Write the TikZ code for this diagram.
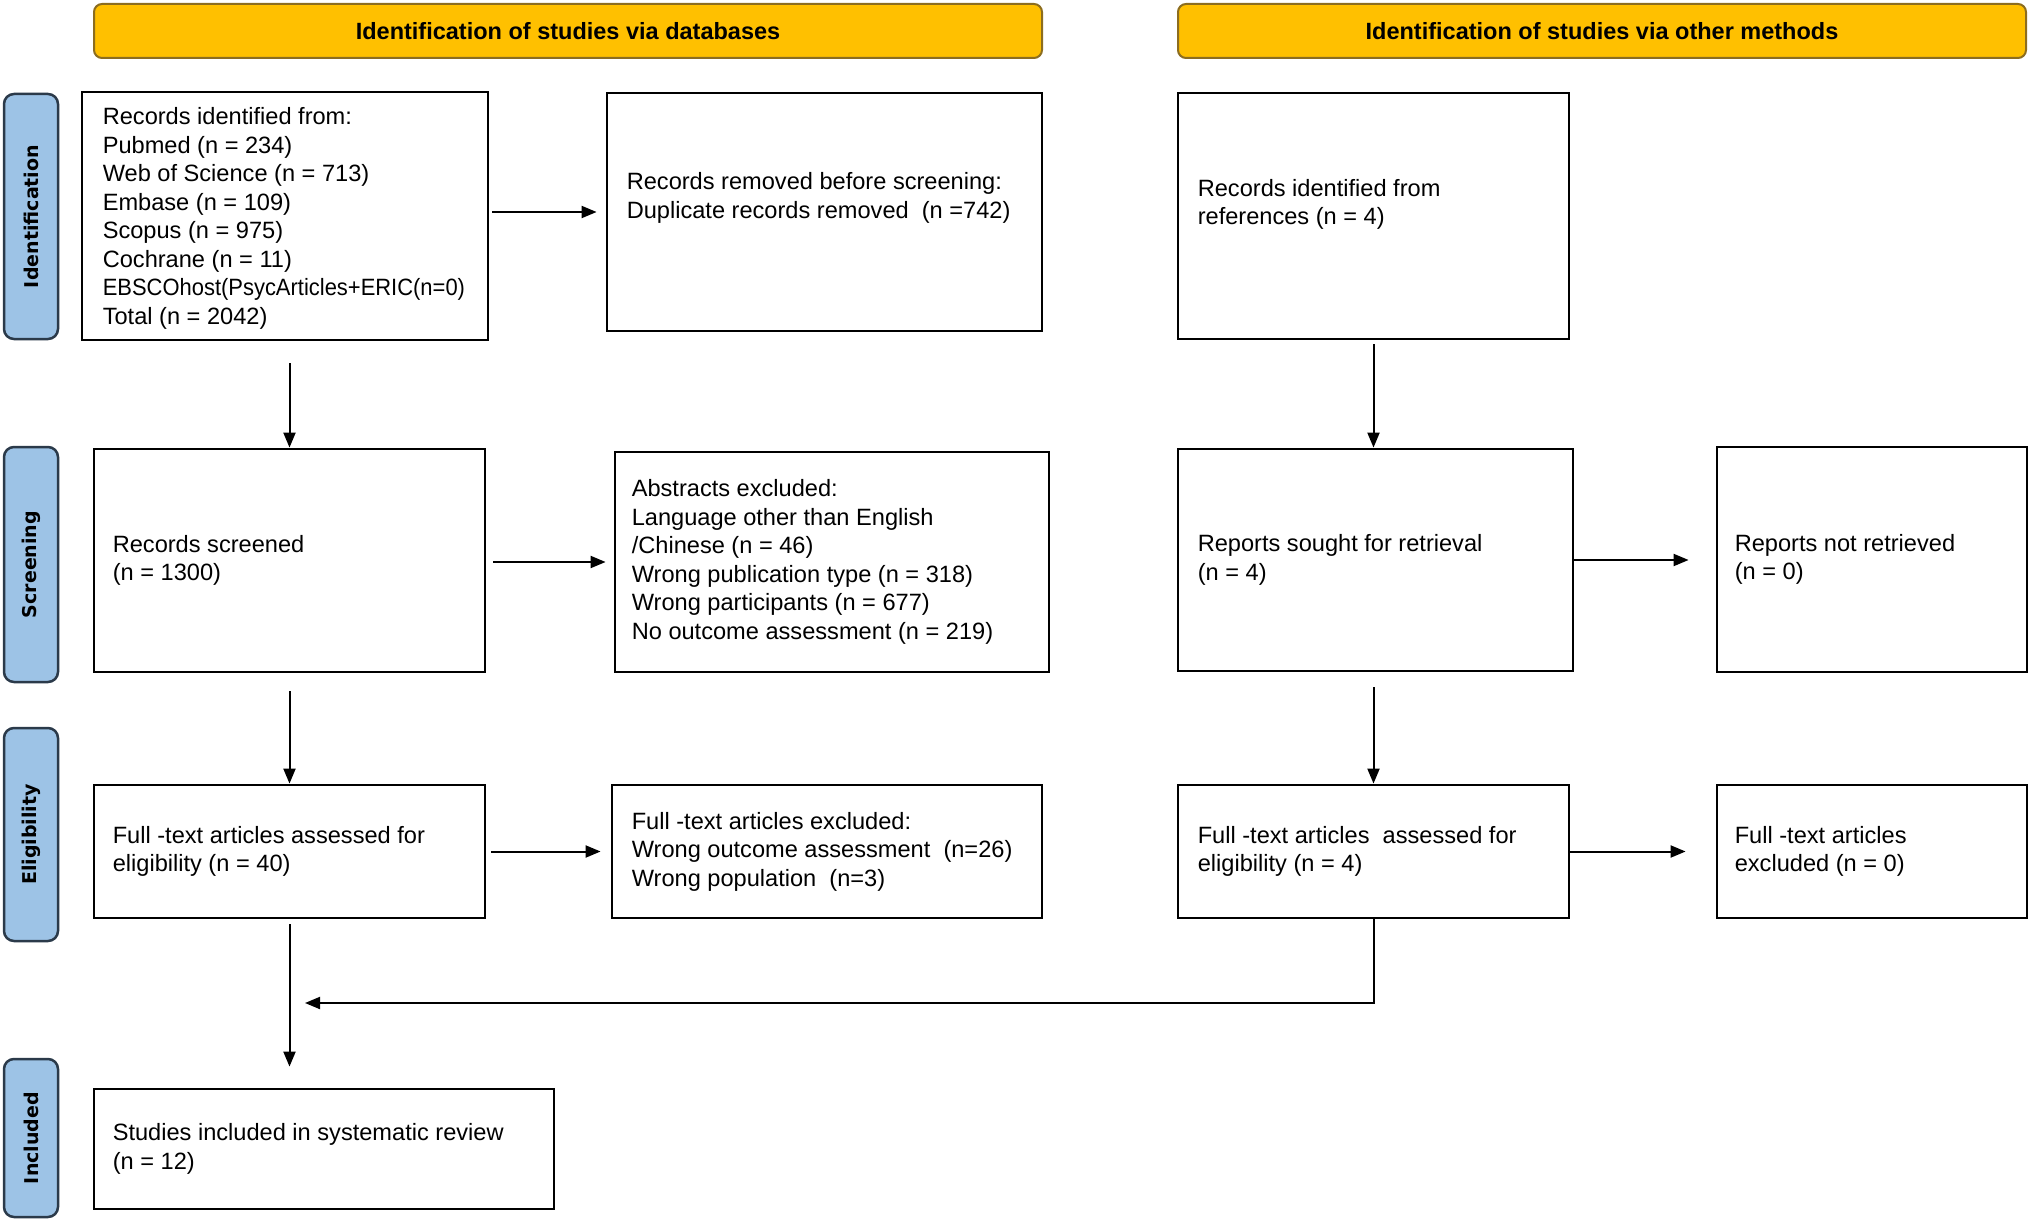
\documentclass[tikz,border=0pt]{standalone}
\usepackage{fontspec}
\setmainfont{Liberation Sans}
\newfontfamily\sidefont{DejaVu Sans}
\usetikzlibrary{arrows.meta,calc}
\definecolor{gold}{HTML}{FFC000}
\definecolor{golddark}{HTML}{8C6D1F}
\definecolor{sideblue}{HTML}{9DC3E6}
\definecolor{sidedark}{HTML}{2B3A4A}
\begin{document}
\begin{tikzpicture}[x=1pt,y=-1pt,
  box/.style={draw=black, line width=2.8pt, fill=white, inner sep=0pt},
  txt/.style={anchor=west, align=left, inner sep=0pt, font=\fontsize{23.6}{28.5}\selectfont},
  header/.style={draw=golddark, line width=2pt, fill=gold, rounded corners=8pt, inner sep=0pt, font=\fontsize{23.5}{28}\selectfont\bfseries},
  side/.style={draw=sidedark, line width=2.5pt, fill=sideblue, rounded corners=10pt, inner sep=0pt, rotate=90, minimum height=54pt, font=\fontsize{19}{22}\sidefont\bfseries},
  arr/.style={line width=2pt, -{Triangle[length=15pt,width=12pt]}},
  conn/.style={line width=2pt}]
\useasboundingbox (0,0) rectangle (2030,1220);

% headers
\node[header, minimum width=948pt, minimum height=54pt] (h1) at (568,31) {Identification of studies via databases};
\node[header, minimum width=848pt, minimum height=54pt] (h2) at (1602,31) {Identification of studies via other methods};

% side labels
\node[side, minimum width=245pt] (s1) at (31,216.5) {Identification};
\node[side, minimum width=235pt] (s2) at (31,564.5) {Screening};
\node[side, minimum width=213pt] (s3) at (31,834.5) {Eligibility};
\node[side, minimum width=158pt] (s4) at (31,1138) {Included};

% boxes
\node[box, minimum width=406pt, minimum height=248pt] (A) at (285,216) {};
\node[box, minimum width=435pt, minimum height=238pt] (B) at (824.5,212) {};
\node[box, minimum width=391pt, minimum height=246pt] (C) at (1373.5,216) {};
\node[box, minimum width=391pt, minimum height=223pt] (D) at (289.5,560.5) {};
\node[box, minimum width=434pt, minimum height=220pt] (E) at (832,562) {};
\node[box, minimum width=395pt, minimum height=222pt] (F) at (1375.5,560) {};
\node[box, minimum width=310pt, minimum height=225pt] (G) at (1872,559.5) {};
\node[box, minimum width=391pt, minimum height=133pt] (H) at (289.5,851.5) {};
\node[box, minimum width=430pt, minimum height=133pt] (I) at (827,851.5) {};
\node[box, minimum width=391pt, minimum height=133pt] (J) at (1373.5,851.5) {};
\node[box, minimum width=310pt, minimum height=133pt] (K) at (1872,851.5) {};
\node[box, minimum width=460pt, minimum height=120pt] (L) at (324,1149) {};

% texts
\node[txt] (tA) at ([xshift=22pt,yshift=-2.5pt]A.west) {Records identified from:\\Pubmed (n = 234)\\Web of Science (n = 713)\\Embase (n = 109)\\Scopus (n = 975)\\Cochrane (n = 11)\\\scalebox{0.93}[1]{EBSCOhost(PsycArticles+ERIC(n=0)}\\Total (n = 2042)};
\node[txt] (tB) at ([xshift=21pt,yshift=14pt]B.west) {Records removed before screening:\\Duplicate records removed\ \ (n =742)};
\node[txt] (tC) at ([xshift=21pt,yshift=11.5pt]C.west) {Records identified from\\references (n = 4)};
\node[txt] (tD) at ([xshift=20pt]D.west) {Records screened\\(n = 1300)};
\node[txt] (tE) at ([xshift=18pt]E.west) {Abstracts excluded:\\Language other than English\\/Chinese (n = 46)\\Wrong publication type (n = 318)\\Wrong participants (n = 677)\\No outcome assessment (n = 219)};
\node[txt] (tF) at ([xshift=21pt]F.west) {Reports sought for retrieval\\(n = 4)};
\node[txt] (tG) at ([xshift=19pt]G.west) {Reports not retrieved\\(n = 0)};
\node[txt] (tH) at ([xshift=20pt]H.west) {Full -text articles assessed for\\eligibility (n = 40)};
\node[txt] (tI) at ([xshift=21pt]I.west) {Full -text articles excluded:\\Wrong outcome assessment\ \ (n=26)\\Wrong population\ \ (n=3)};
\node[txt] (tJ) at ([xshift=21pt]J.west) {Full -text articles\ \ assessed for\\eligibility (n = 4)};
\node[txt] (tK) at ([xshift=19pt]K.west) {Full -text articles\\excluded (n = 0)};
\node[txt] (tL) at ([xshift=20pt]L.west) {Studies included in systematic review\\(n = 12)};

% connectors
\draw[arr, shorten <=22pt] (A.south -| D.north) -- (D.north);
\draw[arr, shorten <=3pt, shorten >=9pt] (A.east |- B.west) -- (B.west);
\draw[arr, shorten <=7pt, shorten >=8pt] (D.east |- E.west) -- (E.west);
\draw[arr, shorten <=18pt] (D.south) -- (D.south |- H.north);
\draw[arr, shorten <=5pt] (H.east) -- ([xshift=-10pt]I.west |- H.east);
\draw[arr, shorten <=5pt, shorten >=21pt] (H.south) -- (H.south |- L.north);
\draw[arr, shorten <=4pt] (C.south) -- (C.south |- F.north);
\draw[arr] (F.east) -- ([xshift=-27pt]G.west |- F.east);
\draw[arr, shorten <=15pt] (F.south -| J.north) -- (J.north);
\draw[arr] (J.east) -- ([xshift=-30pt]K.west |- J.east);
\coordinate (mEnd) at (305,1003);
\draw[arr] (J.south) -- (J.south |- mEnd) -- (mEnd);
\end{tikzpicture}
\end{document}
